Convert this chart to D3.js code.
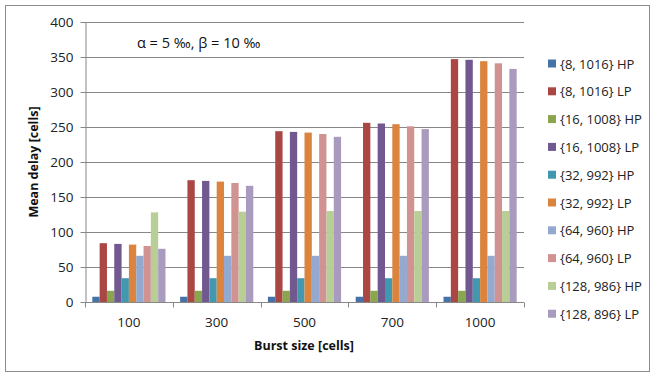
<!DOCTYPE html>
<html>
<head>
<meta charset="utf-8">
<script src="https://cdn.jsdelivr.net/npm/d3@7"></script>
<style>
  html, body { margin: 0; padding: 0; background: #fff; }
  svg { display: block; font-family: "Open Sans", "Liberation Sans", sans-serif; }
</style>
</head>
<body>
<svg id="chart" width="655" height="376"></svg>
<script>
// Burst sizes on the x axis
const categories = ["100", "300", "500", "700", "1000"];

// Series names in legend order
const seriesNames = [
  "{8, 1016} HP", "{8, 1016} LP",
  "{16, 1008} HP", "{16, 1008} LP",
  "{32, 992} HP", "{32, 992} LP",
  "{64, 960} HP", "{64, 960} LP",
  "{128, 986} HP", "{128, 896} LP"
];

// Mean delay per series, one value per burst size
const hp8   = [7.5, 7.5, 7.5, 7.5, 7.5];
const lp8   = [84, 174, 244, 256, 347];
const hp16  = [16, 16, 16, 16, 16];
const lp16  = [83, 173, 243, 255, 346];
const hp32  = [34, 34, 34, 34, 34];
const lp32  = [82, 172, 242, 254, 344];
const hp64  = [66, 66, 66, 66, 66];
const lp64  = [80, 170, 240, 251, 341];
const hp128 = [128, 129, 130, 130, 130];
const lp128 = [76, 166, 236, 247, 333];

const seriesValues = [hp8, lp8, hp16, lp16, hp32, lp32, hp64, lp64, hp128, lp128];

const colors = ["#4572A7", "#AA4643", "#89A54E", "#71588F", "#4198AF",
                "#DB843D", "#93A9CF", "#D19392", "#B9CD96", "#A99BBD"];

const yTicks = [0, 50, 100, 150, 200, 250, 300, 350, 400];

const svg = d3.select("#chart");

// Outer chart frame
svg.append("rect")
  .attr("x", 5.5).attr("y", 5.5)
  .attr("width", 644).attr("height", 366)
  .attr("fill", "#fff").attr("stroke", "#8c8c8c").attr("stroke-width", 1);

const plot = { left: 85, right: 524, top: 22, bottom: 302 };

const x = d3.scaleBand()
  .domain(categories)
  .range([plot.left, plot.right])
  .paddingInner(2 / 12)
  .paddingOuter(1 / 12);

const xs = d3.scaleBand()
  .domain(d3.range(seriesNames.length))
  .range([0, x.bandwidth()]);

const y = d3.scaleLinear().domain([0, 400]).range([plot.bottom, plot.top]);

// Horizontal gridlines
svg.append("g")
  .selectAll("line")
  .data(yTicks.filter(d => d > 0))
  .join("line")
  .attr("x1", plot.left).attr("x2", plot.right)
  .attr("y1", d => Math.round(y(d)) + 0.5).attr("y2", d => Math.round(y(d)) + 0.5)
  .attr("stroke", "#878787").attr("stroke-width", 1);

// Bars
const groups = svg.append("g")
  .selectAll("g")
  .data(categories)
  .join("g")
  .attr("transform", d => `translate(${x(d)},0)`);

groups.selectAll("rect")
  .data((c, ci) => seriesValues.map((vals, si) => ({ si, v: vals[ci] })))
  .join("rect")
  .attr("x", d => xs(d.si))
  .attr("width", xs.bandwidth())
  .attr("y", d => y(d.v))
  .attr("height", d => y(0) - y(d.v))
  .attr("fill", d => colors[d.si]);

// Y axis
const yAxis = svg.append("g")
  .attr("transform", `translate(${plot.left + 0.5},0)`)
  .call(d3.axisLeft(y).tickValues(yTicks).tickSize(5).tickPadding(7).tickSizeOuter(0));
yAxis.select(".domain").attr("stroke", "#878787");
yAxis.selectAll(".tick line").attr("stroke", "#878787");
yAxis.selectAll(".tick text")
  .attr("font-size", 13.5).attr("fill", "#222")
  .attr("font-family", "'Open Sans', sans-serif");

// X axis with tick marks on category boundaries
const xAxisG = svg.append("g")
  .attr("transform", `translate(0,${plot.bottom + 0.5})`);
xAxisG.append("line")
  .attr("x1", plot.left).attr("x2", plot.right)
  .attr("stroke", "#878787");
const boundaries = categories.map(c => x(c) - x.step() * x.paddingInner() / 2)
  .concat([plot.right]);
xAxisG.selectAll("line.b")
  .data(boundaries)
  .join("line").attr("class", "b")
  .attr("x1", d => Math.round(d) + 0.5).attr("x2", d => Math.round(d) + 0.5)
  .attr("y1", 0).attr("y2", 5)
  .attr("stroke", "#878787");
xAxisG.selectAll("text")
  .data(categories)
  .join("text")
  .attr("x", d => x(d) + x.bandwidth() / 2)
  .attr("y", 24)
  .attr("text-anchor", "middle")
  .attr("font-size", 13.5).attr("fill", "#222")
  .text(d => d);

// Axis titles
svg.append("text")
  .attr("x", 304).attr("y", 350)
  .attr("text-anchor", "middle")
  .attr("font-size", 12.5).attr("font-weight", "bold").attr("fill", "#111")
  .text("Burst size [cells]");

svg.append("text")
  .attr("transform", "translate(38,162) rotate(-90)")
  .attr("text-anchor", "middle")
  .attr("font-size", 12.5).attr("font-weight", "bold").attr("fill", "#111")
  .text("Mean delay [cells]");

// Parameter note
svg.append("text")
  .attr("x", 137).attr("y", 48)
  .attr("font-size", 14.5).attr("fill", "#111")
  .text("α = 5 ‰, β = 10 ‰");

// Legend
const legend = svg.append("g")
  .selectAll("g")
  .data(seriesNames)
  .join("g")
  .attr("transform", (d, i) => `translate(548,${63.5 + i * 27.8})`);
legend.append("rect")
  .attr("x", 0).attr("y", -4).attr("width", 8).attr("height", 8)
  .attr("fill", (d, i) => colors[i]);
legend.append("text")
  .attr("x", 12).attr("y", 5)
  .attr("font-size", 13).attr("fill", "#222")
  .text(d => d);
</script>
</body>
</html>
